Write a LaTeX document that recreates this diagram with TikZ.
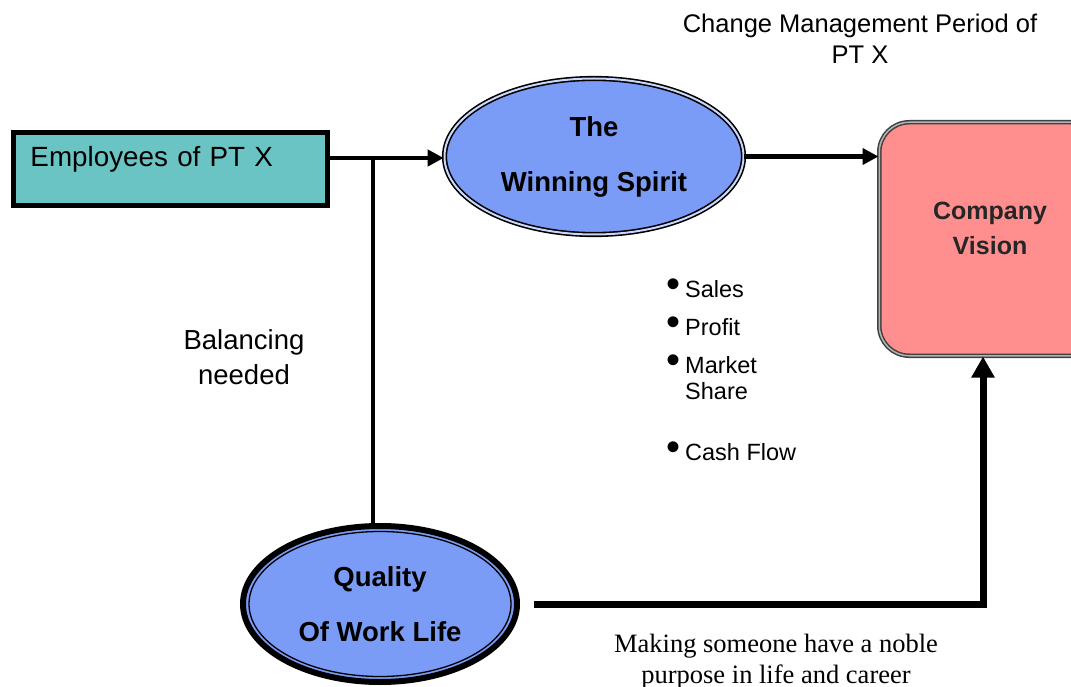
\documentclass[tikz,border=0pt]{standalone}
\usepackage{fontspec}
\setmainfont{Liberation Sans}
\newfontfamily\serifface{Liberation Serif}
\usetikzlibrary{shapes.geometric,arrows.meta}
\definecolor{empfill}{HTML}{6BC4C4}
\definecolor{ellfill}{HTML}{7B9CF6}
\definecolor{visfill}{HTML}{FF8F8F}
\newcommand\fsz[2]{\fontsize{#1}{#2}\selectfont}
\newcommand\mltext[1]{\begin{tabular}[t]{@{}c@{}}#1\end{tabular}}
\newcommand\bul{\makebox[19pt][l]{\fsz{40}{27}\textbullet}}
\begin{document}
\begin{tikzpicture}[x=1pt,y=-1pt,
  conn/.style={line width=4.5pt},
  arr/.style={conn,-{Triangle[length=16pt,width=16pt]}},
  bigarr/.style={line width=7pt,-{Triangle[length=21pt,width=22pt]}},
  empbox/.style={draw=black,line width=5pt,fill=empfill,inner sep=0pt,
    minimum width=314pt,minimum height=73pt,text width=280pt,align=left,
    font=\fsz{27.8}{32},text height=20pt,text depth=24pt},
  ellnode/.style={ellipse,fill=ellfill,inner sep=0pt,align=center,
    font=\bfseries\fsz{27.5}{55}},
  txt/.style={inner sep=0pt}
]
\clip (0,0) rectangle (1071,687);

% nodes
\node[empbox] (emp) at (170.5,169) {Employees of PT X};
\node[ellnode,draw=black,line width=1.6pt,double=ellfill!40!white,double distance=2pt,
  minimum width=299pt,minimum height=156pt] (ws) at (594,156.5) {The\\Winning Spirit};
\node[rectangle,rounded corners=30pt,fill=visfill,draw=black!75,line width=1.5pt,
  double=black!30,double distance=1.5pt,minimum width=221.5pt,minimum height=233.5pt,
  label={[font=\bfseries\fsz{25}{35},text=black!85,align=center,yshift=10.5pt]center:Company\\Vision}]
  (cv) at (990,239) {};
\node[ellnode,draw=black,line width=6pt,minimum width=274pt,minimum height=156pt]
  (q) at (380,604) {Quality\\Of Work Life};
\draw[line width=1.3pt] (q.center) ellipse [x radius=131, y radius=72.5];

% texts
\node[txt,anchor=base,font=\fsz{25.5}{31}] (title) at (860,33) {\mltext{Change Management Period of\\PT X}};
\node[txt,anchor=base,font=\fsz{27.5}{35}] (bal) at (244,349) {\mltext{Balancing\\needed}};
\node[txt,anchor=base west,font=\fsz{23.5}{27}] (bullets) at (666,297)
  {\begin{tabular}[t]{@{}l@{}l@{}}
   \bul&Sales\\[11pt]
   \bul&Profit\\[11pt]
   \bul&Market\\
   &Share\\[34pt]
   \bul&Cash Flow
   \end{tabular}};
\node[txt,anchor=base,font=\serifface\fsz{26.5}{31}] (noble) at (776,652)
  {\mltext{Making someone have a noble\\purpose in life and career}};

% connectors
\coordinate (j) at (373,158);
\draw[arr] (emp.east |- j) -- (ws.west |- j);
\draw[conn] (j) -- (j |- q.north);
\draw[arr] (ws.east) -- (ws.east -| cv.west);
\draw[bigarr,shorten <=14pt] (q.east) -| ([xshift=-7pt]cv.south);
\end{tikzpicture}
\end{document}
